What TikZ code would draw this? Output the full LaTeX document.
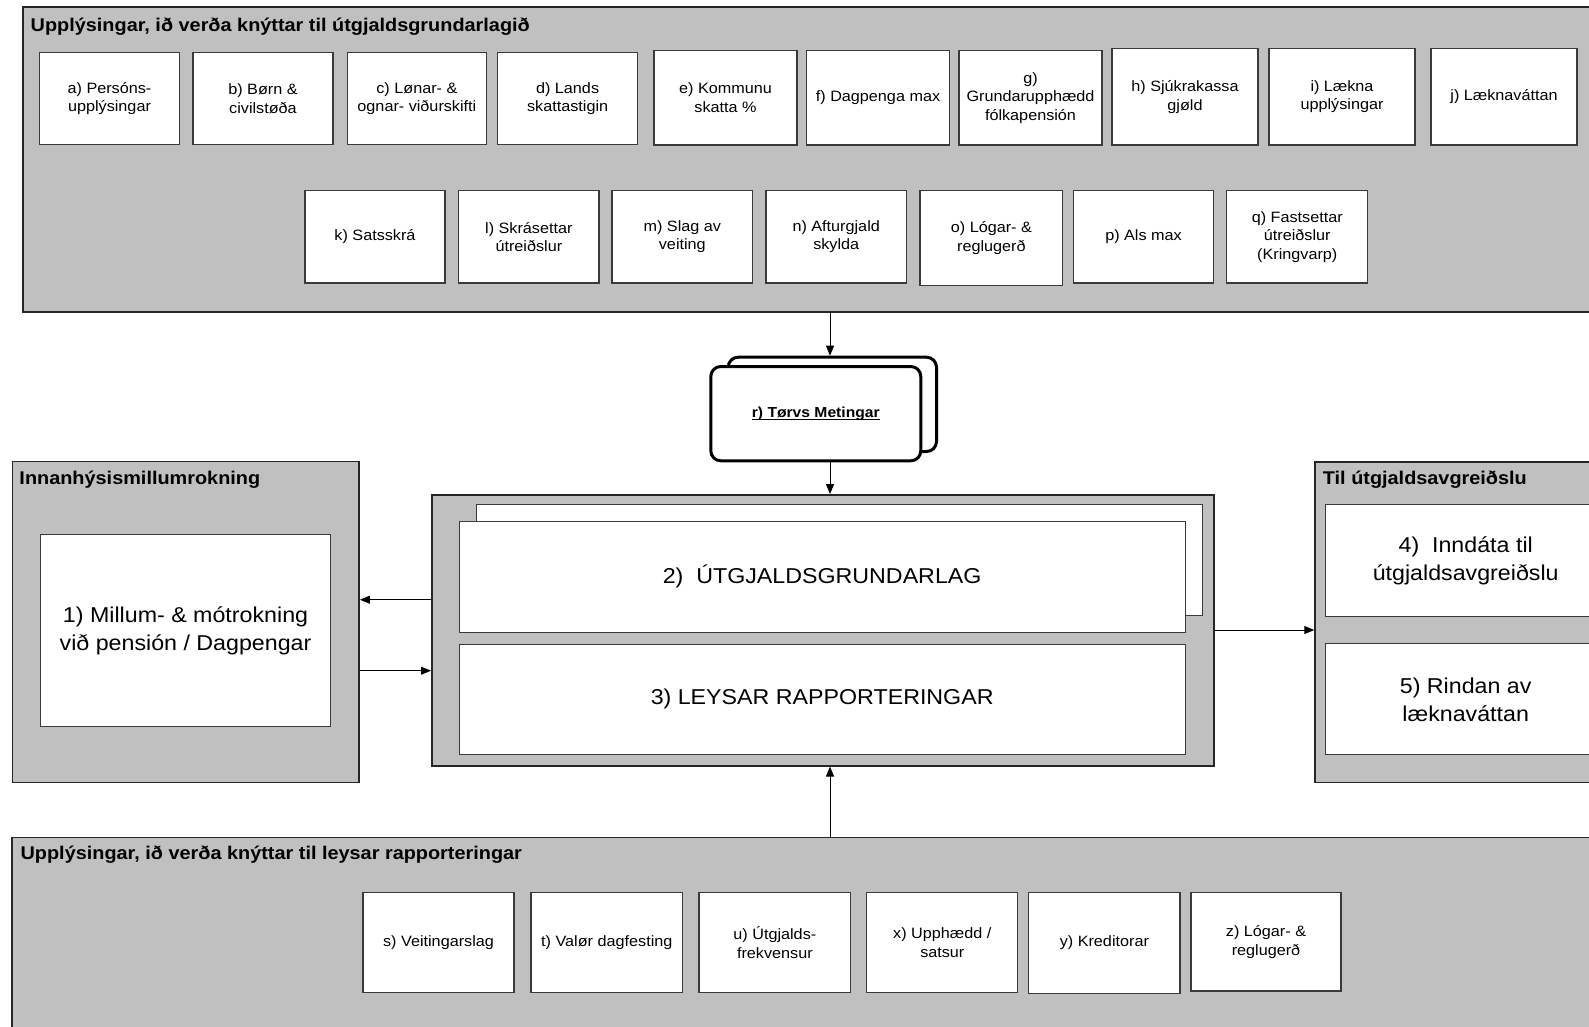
\documentclass[tikz,border=0pt]{standalone}
\usepackage{fontspec}
\setmainfont{Liberation Sans}[FakeStretch=1.08]
\usetikzlibrary{arrows.meta}
\definecolor{panelgray}{HTML}{C0C0C0}
\definecolor{edgegray}{HTML}{3A3A3A}
\newcommand\ulbold[1]{\setbox0\hbox{#1}\rlap{\rule[-2.6pt]{\wd0}{1.4pt}}\box0}
\begin{document}
\begin{tikzpicture}[x=1pt,y=-1pt,
  panel/.style={draw=black!85, line width=1.6pt, fill=panelgray, anchor=north west, inner sep=0pt},
  ptitle/.style={anchor=base west, inner sep=0pt, font=\bfseries\fontsize{18.4}{21}\selectfont},
  sbox/.style={draw=edgegray, line width=1.1pt, fill=white, inner sep=2pt, align=center, font=\fontsize{15}{18.5}\selectfont},
  bbox/.style={draw=edgegray, line width=1.1pt, fill=white, inner sep=0pt, align=center, anchor=north west, font=\fontsize{21.5}{28}\selectfont},
  rbox/.style={draw=black, line width=3pt, fill=white, rounded corners=10pt, inner sep=0pt, anchor=north west},
  arr/.style={line width=1pt, -{Triangle[length=10pt,width=8pt]}},
]
\path[use as bounding box] (0,0) rectangle (1589,1027);
\clip (0,0) rectangle (1589,1027);

% ---------- top panel ----------
\node[panel, minimum width=1597.6pt, minimum height=305pt] (toppanel) at (22.4,6) {};
\node[ptitle] (toptitle) at (30.5,31.5) {Upplýsingar, ið verða knýttar til útgjaldsgrundarlagið};

\node[sbox, minimum width=140pt, minimum height=92.7pt] (a) at (109.5,98.6) {a) Persóns-\\upplýsingar};
\node[sbox, minimum width=140pt, minimum height=92.7pt] (b) at (263,98.6) {b) Børn \&\\civilstøða};
\node[sbox, minimum width=139.7pt, minimum height=92.7pt] (c) at (416.9,98.6) {c) Lønar- \&\\ognar- viðurskifti};
\node[sbox, minimum width=140.4pt, minimum height=92.7pt] (d) at (567.6,98.6) {d) Lands\\skattastigin};
\node[sbox, minimum width=143pt, minimum height=94.3pt] (e) at (725.5,97.85) {e) Kommunu\\skatta \%};
\node[sbox, minimum width=143.5pt, minimum height=94.3pt] (f) at (878,97.85) {f) Dagpenga max};
\node[sbox, minimum width=143pt, minimum height=94.3pt] (g) at (1030.5,97.85) {g)\\Grundarupphædd\\fólkapensión};
\node[sbox, minimum width=146pt, minimum height=96.3pt] (h) at (1185,96.85) {h) Sjúkrakassa\\gjøld};
\node[sbox, minimum width=146pt, minimum height=96.3pt] (i) at (1342,96.85) {i) Lækna\\upplýsingar};
\node[sbox, minimum width=146pt, minimum height=96.3pt] (j) at (1504,96.85) {j) Læknaváttan};

\node[sbox, minimum width=140pt, minimum height=92.3pt] (k) at (375,236.85) {k) Satsskrá};
\node[sbox, minimum width=140.3pt, minimum height=92.3pt] (l) at (528.85,236.85) {l) Skrásettar\\útreiðslur};
\node[sbox, minimum width=140.6pt, minimum height=92.3pt] (m) at (682.3,236.85) {m) Slag av\\veiting};
\node[sbox, minimum width=140.4pt, minimum height=92.3pt] (n) at (836.2,236.85) {n) Afturgjald\\skylda};
\node[sbox, minimum width=142.8pt, minimum height=94.6pt] (o) at (991.4,238) {o) Lógar- \&\\reglugerð};
\node[sbox, minimum width=139.8pt, minimum height=92.3pt] (p) at (1143.5,236.85) {p) Als max};
\node[sbox, minimum width=140.9pt, minimum height=92.3pt] (q) at (1297.25,236.85) {q) Fastsettar\\útreiðslur\\(Kringvarp)};

% ---------- r) ----------
\node[rbox, minimum width=208.3pt, minimum height=94.3pt] (rback) at (726.7,355.7) {};
\node[rbox, minimum width=210pt, minimum height=94.3pt] (rfront) at (709.3,365)
  {\bfseries\fontsize{14.5}{17}\selectfont\ulbold{r) Tørvs Metingar}};

% ---------- left panel ----------
\node[panel, minimum width=346.6pt, minimum height=321pt] (leftpanel) at (11.7,460.7) {};
\node[ptitle] (lefttitle) at (19.3,484.5) {Innanhýsismillumrokning};
\node[bbox, minimum width=290.6pt, minimum height=192pt] (one) at (39.7,534.3)
  {1) Millum- \& mótrokning\\við pensión / Dagpengar};

% ---------- middle panel ----------
\node[panel, minimum width=782pt, minimum height=271pt] (mid) at (431,494) {};
\node[bbox, minimum width=726.5pt, minimum height=111pt] (twoback) at (475.5,504) {};
\node[bbox, minimum width=726.2pt, minimum height=110.5pt] (two) at (458.5,521) {2)\ \ ÚTGJALDSGRUNDARLAG};
\node[bbox, minimum width=726.2pt, minimum height=110.5pt] (three) at (458.5,643.5) {3) LEYSAR RAPPORTERINGAR};

% ---------- right panel ----------
\node[panel, minimum width=302pt, minimum height=320.7pt] (rightpanel) at (1314.3,461) {};
\node[ptitle] (righttitle) at (1322.7,484.5) {Til útgjaldsavgreiðslu};
\node[bbox, minimum width=279.7pt, minimum height=111.4pt] (four) at (1325.3,504.3)
  {4)\ \ Inndáta til\\útgjaldsavgreiðslu};
\node[bbox, minimum width=279.7pt, minimum height=111pt] (five) at (1325.3,643.3)
  {5) Rindan av\\læknaváttan};

% ---------- bottom panel ----------
\node[panel, minimum width=1610pt, minimum height=210pt] (bottompanel) at (11.2,836.7) {};
\node[ptitle] (bottomtitle) at (20.4,859.5) {Upplýsingar, ið verða knýttar til leysar rapporteringar};

\node[sbox, minimum width=151pt, minimum height=99.6pt] (s) at (438.5,942.5) {s) Veitingarslag};
\node[sbox, minimum width=151.6pt, minimum height=99.6pt] (t) at (606.8,942.5) {t) Valør dagfesting};
\node[sbox, minimum width=151.7pt, minimum height=99.6pt] (u) at (774.85,942.5) {u) Útgjalds-\\frekvensur};
\node[sbox, minimum width=151.2pt, minimum height=99.6pt] (x) at (942.3,942.5) {x) Upphædd /\\satsur};
\node[sbox, minimum width=151.3pt, minimum height=100.6pt] (y) at (1104.35,943) {y) Kreditorar};
\node[sbox, minimum width=150pt, minimum height=98.3pt] (z) at (1266,941.85) {z) Lógar- \&\\reglugerð};

% ---------- connectors ----------
\coordinate (vx) at (830,0);
\coordinate (yA) at (0,599.7);
\coordinate (yB) at (0,670.7);
\coordinate (yC) at (0,630);
\draw[arr] (vx |- toppanel.south) -- (vx |- rback.north);
\draw[arr] (vx |- rfront.south) -- (vx |- mid.north);
\draw[arr] (vx |- bottompanel.north) -- (vx |- mid.south);
\draw[arr] (mid.west |- yA) -- (leftpanel.east |- yA);
\draw[arr] (leftpanel.east |- yB) -- (mid.west |- yB);
\draw[arr] (mid.east |- yC) -- (rightpanel.west |- yC);
\end{tikzpicture}
\end{document}
